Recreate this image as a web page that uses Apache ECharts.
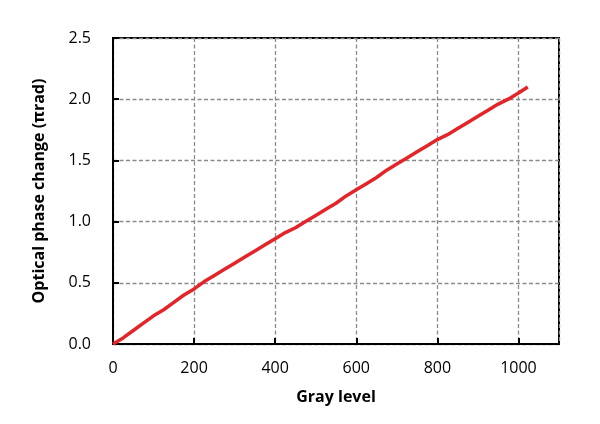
<!DOCTYPE html>
<html>
<head>
<meta charset="utf-8">
<script src="https://cdn.jsdelivr.net/npm/echarts@6/dist/echarts.min.js"></script>
<style>
  html, body { margin: 0; padding: 0; background: #fff; }
  #chart { width: 600px; height: 424px; }
</style>
</head>
<body>
<div id="chart"></div>
<script>
const grayLevels = [0, 25, 50, 75, 100, 125, 150, 175, 200, 225, 250, 275, 300, 325, 350, 375,
  400, 425, 450, 475, 500, 525, 550, 575, 600, 625, 650, 675, 700, 725, 750, 775,
  800, 825, 850, 875, 900, 925, 950, 975, 1000, 1023]
const phase = [0, 0.05, 0.11, 0.17, 0.23, 0.28, 0.34, 0.40, 0.45, 0.51, 0.56, 0.61, 0.66, 0.71, 0.76, 0.81,
  0.86, 0.91, 0.95, 1.00, 1.05, 1.10, 1.15, 1.21, 1.26, 1.31, 1.36, 1.42, 1.47, 1.52, 1.57, 1.62,
  1.67, 1.71, 1.76, 1.81, 1.86, 1.91, 1.96, 2.00, 2.05, 2.10]

const font = 'Open Sans, Noto Sans, sans-serif'
const dashed = { lineStyle: { color: '#8a8a8a', type: [4, 2.5], width: 1.3 } }

const chart = echarts.init(document.getElementById('chart'))
chart.setOption({
  animation: false,
  grid: {
    left: 113, right: 41, top: 38, bottom: 80,
    show: true, borderColor: '#000', borderWidth: 2
  },
  xAxis: {
    type: 'value',
    min: 0, max: 1100, interval: 200,
    name: 'Gray level',
    nameLocation: 'middle',
    nameGap: 45,
    nameTextStyle: { fontFamily: font, fontSize: 16, fontWeight: 'bold', color: '#000' },
    axisLine: { lineStyle: { color: '#000', width: 2 } },
    axisTick: { inside: true, length: 6, lineStyle: { color: '#000', width: 2 } },
    axisLabel: { fontFamily: font, fontSize: 16, color: '#000', margin: 16, showMaxLabel: false, formatter: v => String(v) },
    splitLine: { show: true, ...dashed }
  },
  yAxis: {
    type: 'value',
    min: 0, max: 2.5, interval: 0.5,
    name: 'Optical phase change (πrad)',
    nameLocation: 'middle',
    nameGap: 66,
    nameTextStyle: { fontFamily: font, fontSize: 16, fontWeight: 'bold', color: '#000' },
    axisLine: { show: true, lineStyle: { color: '#000', width: 2 } },
    axisTick: { show: true, inside: true, length: 6, lineStyle: { color: '#000', width: 2 } },
    axisLabel: { fontFamily: font, fontSize: 16, color: '#000', margin: 22, formatter: v => v.toFixed(1) },
    splitLine: { show: true, ...dashed }
  },
  series: [{
    type: 'line',
    data: grayLevels.map((g, i) => [g, phase[i]]),
    symbol: 'none',
    smooth: false,
    lineStyle: { color: '#e3252a', width: 3.5 }
  }]
})
</script>
</body>
</html>
